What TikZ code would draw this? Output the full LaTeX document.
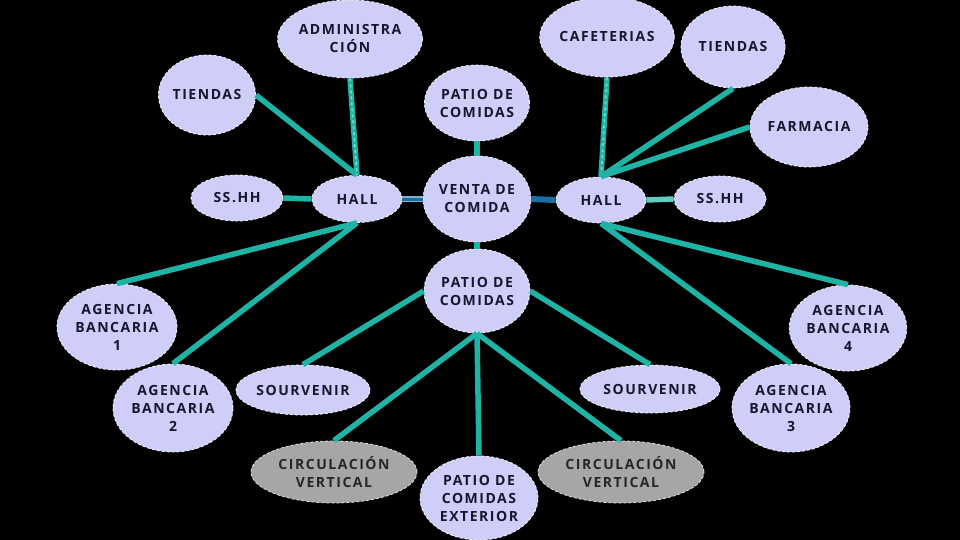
\documentclass[tikz,border=0pt]{standalone}
\usepackage{fontspec}
\setmainfont{Open Sans}
\newfontfamily\lbl[LetterSpace=11]{Open Sans}
\usetikzlibrary{shapes.geometric}

\definecolor{lav}{HTML}{CFCEF8}
\definecolor{grisnode}{HTML}{A6A6A6}
\definecolor{ink}{HTML}{16162E}
\definecolor{teal1}{HTML}{1FB3A6}
\definecolor{azul}{HTML}{1D6FA3}

\tikzset{
  bubble/.style={ellipse, fill=lav, draw=white!80!lav, densely dashed, line width=0.8pt,
    inner sep=0pt, align=center, text=ink, font=\lbl\bfseries\fontsize{14}{18}\selectfont},
  greybubble/.style={bubble, fill=grisnode, draw=white!65!grisnode, text=black!85},
  sz/.style 2 args={minimum width=#1pt, minimum height=#2pt},
  link/.style={teal1, line width=5.5pt},
  dlink/.style={link, postaction={draw, white!45!teal1, dash pattern=on 3pt off 3pt, line width=1.6pt}},
  blink/.style={azul, line width=6pt},
}

\begin{document}
\begin{tikzpicture}[x=1pt, y=-1pt]
    % Background
    \fill[black] (0,0) rectangle (960,540);
    \useasboundingbox (0,0) rectangle (960,540);

    % Centre
    \node[bubble, sz={106}{86}] (venta) at (477,199) {VENTA DE\\COMIDA};
    \node[bubble, sz={104}{76}] (patioA) at (477,103) {PATIO DE\\COMIDAS};
    \node[bubble, sz={106}{84}] (patioB) at (477,291) {PATIO DE\\COMIDAS};

    % Left hall
    \node[bubble, sz={90}{47}] (hallL) at (357,199) {HALL};
    \node[bubble, sz={92}{46}] (sshhL) at (237,198) {SS.HH};
    \node[bubble, sz={134}{78}] (admin) at (350,39) {ADMINISTRA\\CIÓN};
    \node[bubble, sz={96}{80}] (tiendasL) at (207,95) {TIENDAS};
    \node[bubble, sz={120}{86}] (ban1) at (117,327) {AGENCIA\\BANCARIA\\1};
    \node[bubble, sz={120}{88}] (ban2) at (173,408) {AGENCIA\\BANCARIA\\2};

    % Right hall
    \node[bubble, sz={90}{46}] (hallR) at (601,200) {HALL};
    \node[bubble, sz={92}{46}] (sshhR) at (720,199) {SS.HH};
    \node[bubble, sz={134}{80}] (cafe) at (607,37) {CAFETERIAS};
    \node[bubble, sz={104}{82}] (tiendasR) at (733,47) {TIENDAS};
    \node[bubble, sz={118}{80}] (farm) at (809,127) {FARMACIA};
    \node[bubble, sz={118}{88}] (ban3) at (791,408) {AGENCIA\\BANCARIA\\3};
    \node[bubble, sz={116}{86}] (ban4) at (848,328) {AGENCIA\\BANCARIA\\4};

    % Lower patio
    \node[bubble, sz={134}{50}] (souvL) at (303,390) {SOURVENIR};
    \node[bubble, sz={140}{48}] (souvR) at (650,389) {SOURVENIR};
    \node[greybubble, sz={166}{62}] (circL) at (334,472) {CIRCULACIÓN\\VERTICAL};
    \node[greybubble, sz={166}{62}] (circR) at (621,472) {CIRCULACIÓN\\VERTICAL};
    \node[bubble, sz={118}{84}] (patioC) at (479,498) {PATIO DE\\COMIDAS\\EXTERIOR};

    % Links, left hall
    \draw[link] (tiendasL.east) -- (hallL.north);
    \draw[dlink] (admin.south) -- (hallL.north);
    \draw[link] (sshhL.east) -- (hallL.west);
    \draw[link] (hallL.south) -- (ban1.north);
    \draw[link] (hallL.south) -- (ban2.north);
    \draw[azul!55!white, line width=6pt] (hallL.east) -- (venta.west);
    \draw[azul, line width=3pt] (hallL.east) -- (venta.west);

    % Links, centre
    \draw[link] (patioA.south) -- (venta.north);
    \draw[link] (venta.south) -- (patioB.north);
    \draw[blink] (venta.east) -- (hallR.west);

    % Links, right hall
    \draw[dlink] (cafe.south) -- (hallR.north);
    \draw[link] (tiendasR.south) -- (hallR.north);
    \draw[link] (farm.west) -- (hallR.north);
    \draw[link, white!30!teal1] (hallR.east) -- (sshhR.west);
    \draw[link] (hallR.south) -- (ban4.north);
    \draw[link] (hallR.south) -- (ban3.north);

    % Links, lower patio
    \draw[link] (patioB.west) -- (souvL.north);
    \draw[link] (patioB.east) -- (souvR.north);
    \foreach \n in {circL, patioC, circR}
        \draw[link] (patioB.south) -- (\n.north);
\end{tikzpicture}
\end{document}
